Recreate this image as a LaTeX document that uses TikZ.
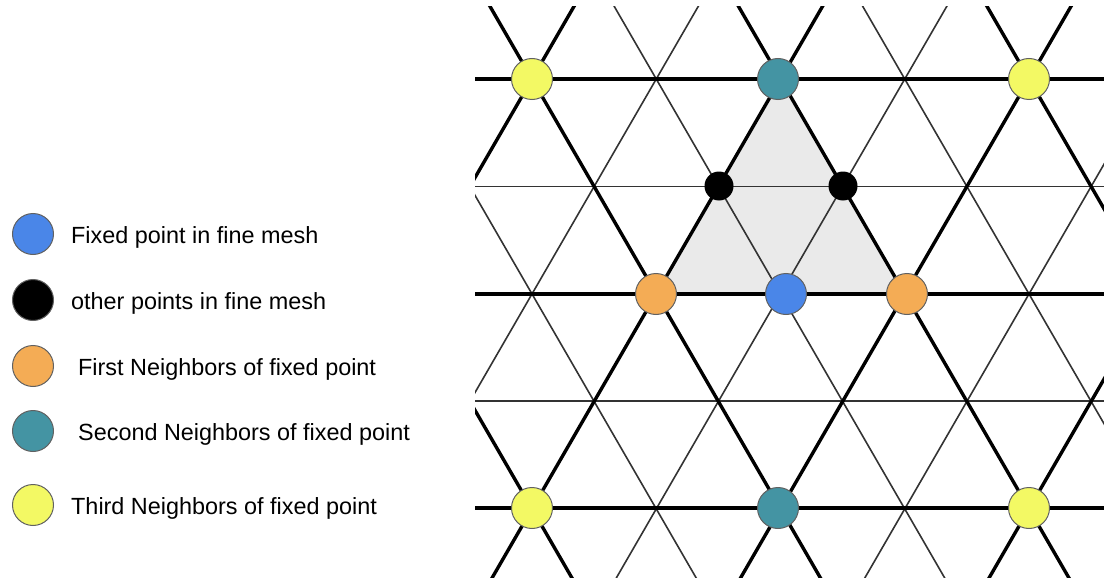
\documentclass[tikz,border=0pt]{standalone}
\usepackage{fontspec}
\setmainfont{Liberation Sans}
\definecolor{cblue}{RGB}{74,134,232}
\definecolor{corange}{RGB}{244,172,85}
\definecolor{cteal}{RGB}{68,148,163}
\definecolor{cyellow}{RGB}{243,249,100}
\definecolor{ctri}{RGB}{234,234,234}
\tikzset{
  thickl/.style={line width=3.4pt, black},
  thinl/.style={line width=1.6pt, black!80},
  pt/.style={circle, draw=black!62, line width=1pt, minimum size=41pt, inner sep=0pt},
  blk/.style={circle, fill=black, minimum size=29pt, inner sep=0pt},
  lbl/.style={anchor=base west, inner sep=0pt, font=\fontsize{23.4}{28}\selectfont}
}
\begin{document}
\begin{tikzpicture}[x=1pt,y=-1pt]
\useasboundingbox (0,0) rectangle (1104,578);
% mesh node positions
\coordinate (pY1) at (532,79);
\coordinate (pT1) at (778,79);
\coordinate (pY2) at (1029,79);
\coordinate (pO1) at (656,294);
\coordinate (pB) at (786,294);
\coordinate (pO2) at (907,294);
\coordinate (pY3) at (532,508);
\coordinate (pT2) at (778,508);
\coordinate (pY4) at (1029,508);
\coordinate (pK1) at (719,186);
\coordinate (pK2) at (843,186);
\begin{scope}
\clip (475,7) rectangle (1104,578);
\fill[ctri] (pT1) -- (pO1) -- (pO2) -- cycle;
\foreach \yy in {186.5,401} \draw[thinl] (470,\yy) -- (1110,\yy);
\foreach \k in {-3,-1,...,7} {
  \pgfmathsetmacro\c{532+124.25*\k}
  \draw[thinl] (\c-103.5,-100) -- (\c+359,700);
  \draw[thinl] (\c+103.5,-100) -- (\c-359,700);
}
\foreach \yy in {79,294,508} \draw[thickl] (470,\yy) -- (1110,\yy);
\foreach \k in {-4,-2,...,8} {
  \pgfmathsetmacro\c{532+124.25*\k}
  \draw[thickl] (\c-103.5,-100) -- (\c+359,700);
  \draw[thickl] (\c+103.5,-100) -- (\c-359,700);
}
\end{scope}
% mesh points
\node[pt, fill=cyellow] (y1) at (pY1) {};
\node[pt, fill=cteal] (t1) at (pT1) {};
\node[pt, fill=cyellow] (y2) at (pY2) {};
\node[pt, fill=corange] (o1) at (pO1) {};
\node[pt, fill=cblue] (b) at (pB) {};
\node[pt, fill=corange] (o2) at (pO2) {};
\node[pt, fill=cyellow] (y3) at (pY3) {};
\node[pt, fill=cteal] (t2) at (pT2) {};
\node[pt, fill=cyellow] (y4) at (pY4) {};
\node[blk] (k1) at (pK1) {};
\node[blk] (k2) at (pK2) {};
% legend
\node[pt, fill=cblue] (l1) at (33,234) {};
\node[pt, fill=black] (l2) at (33,300) {};
\node[pt, fill=corange] (l3) at (33,366) {};
\node[pt, fill=cteal] (l4) at (33,431) {};
\node[pt, fill=cyellow] (l5) at (33,505) {};
\node[lbl] (t1l) at (71,243) {Fixed point in fine mesh};
\node[lbl] (t2l) at (71,309) {other points in fine mesh};
\node[lbl] (t3l) at (78,375) {First Neighbors of fixed point};
\node[lbl] (t4l) at (78,440) {Second Neighbors of fixed point};
\node[lbl] (t5l) at (71,514) {Third Neighbors of fixed point};
\end{tikzpicture}
\end{document}
